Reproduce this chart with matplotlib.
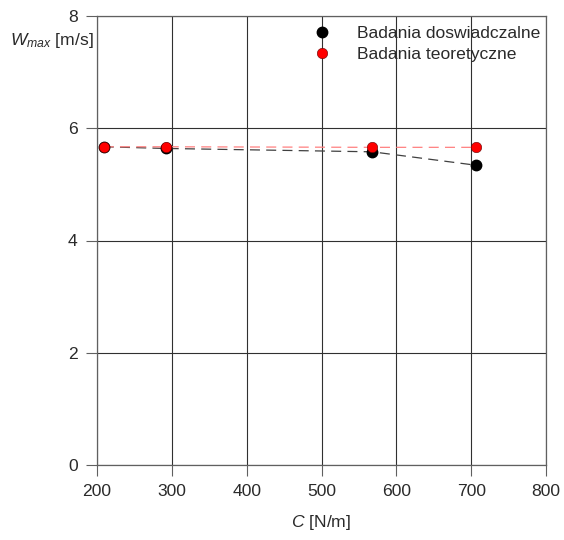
import matplotlib.pyplot as plt

plt.rcParams['font.family'] = ['Liberation Sans', 'DejaVu Sans']
plt.rcParams['mathtext.fontset'] = 'custom'
plt.rcParams['mathtext.rm'] = 'Liberation Sans'
plt.rcParams['mathtext.it'] = 'Liberation Sans:italic'

c_exp = [209, 292, 568, 707]
w_exp = [5.67, 5.64, 5.58, 5.34]
c_teo = [209, 292, 568, 707]
w_teo = [5.67, 5.67, 5.66, 5.66]

fig = plt.figure(figsize=(5.64, 5.40), dpi=100)
ax = fig.add_axes([97/564, 1-465/540, 449/564, 449/540])

ax.plot(c_exp, w_exp, color='#404040', ls=(0, (8, 5)), lw=0.9, zorder=3)
ax.plot(c_teo, w_teo, color='#ff8080', ls=(0, (8, 5)), lw=0.9, zorder=4)
ax.plot(c_exp, w_exp, 'o', color='black', ms=7.5, zorder=5, label='Badania doswiadczalne')
ax.plot(c_teo, w_teo, 'o', color='red', mec='#600000', mew=0.4, ms=7.5, zorder=6,
        label='Badania teoretyczne')

ax.set_xlim(200, 800)
ax.set_ylim(0, 8)
ax.set_xticks(range(200, 801, 100))
ax.set_yticks(range(0, 9, 2))
ax.grid(True, color='#303030', lw=0.8)
ax.set_axisbelow(True)
for s in ax.spines.values():
    s.set_color('#606060')
    s.set_linewidth(0.9)
ax.tick_params(direction='out', length=8, width=0.8, color='#606060',
               labelsize=12.6, labelcolor='#2a2a2a', pad=6)

ax.set_xlabel('$C$ [N/m]', fontsize=12.6, color='#2a2a2a', labelpad=10)
fig.text(10/564, 1-40/540, r'$W_{max}$ [m/s]', fontsize=12.6, color='#2a2a2a',
         va='center', ha='left')

ax.legend(loc='upper left', bbox_to_anchor=(202/449, 1.01), frameon=False,
          fontsize=12.6, handletextpad=1.5, labelspacing=0.35, borderaxespad=0.4,
          handlelength=1.0, labelcolor='#2a2a2a')

fig.savefig('out.png', dpi=100)
